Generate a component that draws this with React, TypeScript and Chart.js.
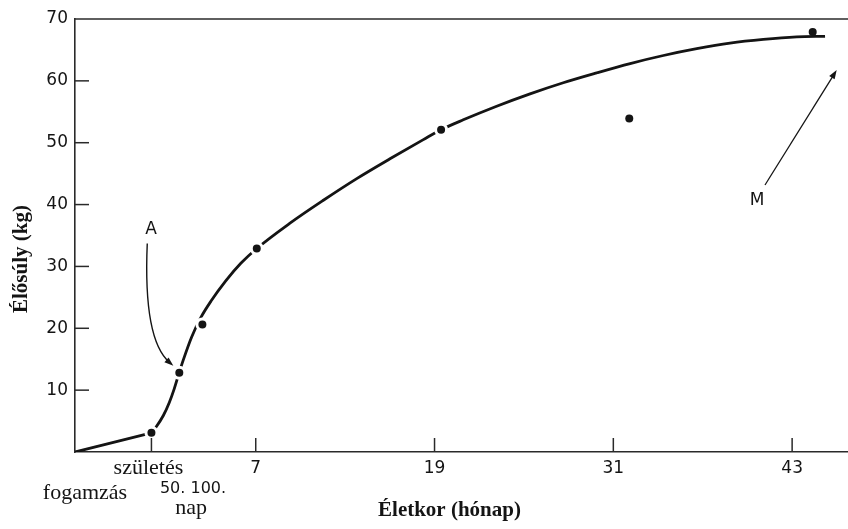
import React, { useEffect, useRef } from "react";
import { Chart, registerables } from "chart.js";

Chart.register(...registerables);

// Axis ranges: age in months (birth = 0), live weight in kg
const xMin = -5.13;
const xMax = 46.75;
const yMin = 0;
const yMax = 70;

const xTickValues = [0, 7, 19, 31, 43];
const xTickLabels = ["születés", "7", "19", "31", "43"];
const yTickValues = [10, 20, 30, 40, 50, 60, 70];

// conception -> birth
const prenatalMonths = [-5.13, 0];
const prenatalWeights = [0, 3.1];

// fitted growth curve after birth
const growthMonths = [0, 0.3, 0.8, 1.2, 1.5, 1.87, 2.14, 2.7, 3.33, 4.0, 5.0, 6.0, 7.07, 9.3, 11.54, 13.78, 16.01, 18.25, 19.44, 20.93, 23.17, 25.41, 27.64, 29.89, 32.13, 34.36, 36.6, 38.83, 41.07, 43.31, 45.21];
const growthWeights = [3.1, 4.0, 5.9, 8.0, 10.0, 12.9, 14.9, 18.6, 21.8, 24.4, 27.7, 30.5, 32.9, 37.0, 40.7, 44.2, 47.4, 50.5, 52.1, 53.7, 55.9, 57.9, 59.7, 61.3, 62.8, 64.1, 65.2, 66.1, 66.7, 67.1, 67.2];

// measured points
const measuredMonths = [0, 1.87, 3.42, 7.07, 19.44, 32.07, 44.38];
const measuredWeights = [3.1, 12.8, 20.6, 32.9, 52.1, 53.9, 67.9];

// annotations (data coordinates)
const labelA = { text: "A", x: -0.03, y: 35.9 };
const arrowA = { sx: -0.28, sy: 33.7, cx: -0.56, cy: 18.1, ex: 1.47, ey: 13.95 };
const labelM = { text: "M", x: 40.64, y: 40.7 };
const arrowM = { sx: 41.18, sy: 43.16, ex: 45.99, ey: 61.75 };

const INK = "#141414";
const AXIS = "#2a2a2a";
const SANS = "'DejaVu Sans', sans-serif";
const SERIF = "'Liberation Serif', 'Times New Roman', serif";

function arrowHead(ctx: CanvasRenderingContext2D, x: number, y: number, dx: number, dy: number, len: number, half: number) {
  const l = Math.hypot(dx, dy) || 1;
  const ux = dx / l, uy = dy / l;
  ctx.beginPath();
  ctx.moveTo(x, y);
  ctx.lineTo(x - ux * len - uy * half, y - uy * len + ux * half);
  ctx.lineTo(x - ux * len + uy * half, y - uy * len - ux * half);
  ctx.closePath();
  ctx.fill();
}

const decorPlugin = {
  id: "decor",
  afterDraw(chart: any) {
    const { ctx, chartArea: ca, scales } = chart;
    const X = (v: number) => scales.x.getPixelForValue(v);
    const Y = (v: number) => scales.y.getPixelForValue(v);
    ctx.save();
    ctx.strokeStyle = AXIS;
    ctx.fillStyle = INK;
    // top frame line
    ctx.lineWidth = 1.6;
    ctx.beginPath();
    ctx.moveTo(ca.left, ca.top);
    ctx.lineTo(ca.right, ca.top);
    ctx.stroke();
    // inward tick marks
    ctx.lineWidth = 1.5;
    for (const v of yTickValues) {
      if (v === yMax) continue;
      const y = Y(v);
      ctx.beginPath();
      ctx.moveTo(ca.left, y);
      ctx.lineTo(ca.left + 14, y);
      ctx.stroke();
    }
    for (const v of xTickValues) {
      const x = X(v);
      ctx.beginPath();
      ctx.moveTo(x, ca.bottom);
      ctx.lineTo(x, ca.bottom - 14);
      ctx.stroke();
    }
    // x tick labels
    ctx.textAlign = "center";
    ctx.textBaseline = "alphabetic";
    xTickValues.forEach((v, i) => {
      const lab = xTickLabels[i];
      if (/^\d+$/.test(lab)) {
        ctx.font = `17px ${SANS}`;
        ctx.fillText(lab, X(v), ca.bottom + 21);
      } else {
        ctx.font = `22px ${SERIF}`;
        ctx.fillText(lab, X(v) - 3, ca.bottom + 22);
      }
    });
    ctx.font = `22px ${SERIF}`;
    ctx.fillText("fogamzás", X(-4.46), ca.bottom + 47);
    ctx.fillText("nap", X(2.66), ca.bottom + 62);
    ctx.font = `16px ${SANS}`;
    ctx.fillText("50. 100.", X(2.79), ca.bottom + 41);
    // axis titles
    ctx.font = `bold 21px ${SERIF}`;
    ctx.fillText("Életkor (hónap)", (ca.left + ca.right) / 2 - 12, ca.bottom + 64);
    ctx.save();
    ctx.translate(22, ca.top + 240);
    ctx.rotate(-Math.PI / 2);
    ctx.textBaseline = "middle";
    ctx.fillText("Élősúly (kg)", 0, 0);
    ctx.restore();
    // annotation labels
    ctx.font = `17px ${SANS}`;
    ctx.textBaseline = "middle";
    ctx.fillText(labelA.text, X(labelA.x), Y(labelA.y));
    ctx.fillText(labelM.text, X(labelM.x), Y(labelM.y));
    // arrow A
    ctx.lineWidth = 1.4;
    ctx.strokeStyle = INK;
    const a0x = X(arrowA.sx), a0y = Y(arrowA.sy);
    const a1x = X(arrowA.cx), a1y = Y(arrowA.cy);
    const a2x = X(arrowA.ex), a2y = Y(arrowA.ey);
    ctx.beginPath();
    ctx.moveTo(a0x, a0y);
    ctx.quadraticCurveTo(a1x, a1y, a2x - (a2x - a1x) * 0.12, a2y - (a2y - a1y) * 0.12);
    ctx.stroke();
    arrowHead(ctx, a2x, a2y, a2x - a1x, a2y - a1y, 9, 3.2);
    // arrow M
    const m0x = X(arrowM.sx), m0y = Y(arrowM.sy);
    const m1x = X(arrowM.ex), m1y = Y(arrowM.ey);
    ctx.lineWidth = 1.3;
    ctx.beginPath();
    ctx.moveTo(m0x, m0y);
    ctx.lineTo(m1x - (m1x - m0x) * 0.05, m1y - (m1y - m0y) * 0.05);
    ctx.stroke();
    arrowHead(ctx, m1x, m1y, m1x - m0x, m1y - m0y, 9, 3.2);
    ctx.restore();
  },
};

export default function App() {
  const canvasRef = useRef<HTMLCanvasElement | null>(null);

  useEffect(() => {
    const canvas = canvasRef.current;
    if (!canvas) return;
    const chart = new Chart(canvas, {
      type: "scatter",
      data: {
        datasets: [
          {
            label: "mért",
            data: measuredMonths.map((x, i) => ({ x, y: measuredWeights[i] })),
            showLine: false,
            pointRadius: [5.5, 5.5, 5.5, 5.5, 5.5, 4, 4],
            pointBorderWidth: [3, 3, 3, 3, 3, 0, 0],
            pointBackgroundColor: INK,
            pointBorderColor: "#ffffff",
            order: 0,
          },
          {
            label: "magzati",
            data: prenatalMonths.map((x, i) => ({ x, y: prenatalWeights[i] })),
            showLine: true,
            pointRadius: 0,
            borderColor: INK,
            borderWidth: 2.8,
            tension: 0,
            order: 1,
          },
          {
            label: "növekedés",
            data: growthMonths.map((x, i) => ({ x, y: growthWeights[i] })),
            showLine: true,
            pointRadius: 0,
            borderColor: INK,
            borderWidth: 2.8,
            cubicInterpolationMode: "monotone",
            order: 1,
          },
        ],
      } as any,
      options: {
        animation: false,
        responsive: false,
        devicePixelRatio: 1,
        events: [],
        layout: { autoPadding: false, padding: { top: 19, right: 0, bottom: 0, left: 0 } },
        plugins: { legend: { display: false }, tooltip: { enabled: false } },
        scales: {
          x: {
            type: "linear",
            min: xMin,
            max: xMax,
            grid: { display: false, drawTicks: false },
            border: { display: true, color: AXIS, width: 1.6 },
            ticks: { display: false },
            afterFit: (s: any) => {
              s.height = 77;
            },
          },
          y: {
            type: "linear",
            min: yMin,
            max: yMax,
            grid: { display: false, drawTicks: false },
            border: { display: true, color: AXIS, width: 1.6 },
            ticks: {
              stepSize: 10,
              padding: 7,
              color: INK,
              font: { family: SANS, size: 17 },
              callback: (v: any) => (v === 0 ? "" : String(v)),
            },
            afterFit: (s: any) => {
              s.width = 75;
            },
          },
        },
      } as any,
      plugins: [decorPlugin],
    });
    return () => chart.destroy();
  }, []);

  return (
    <div style={{ position: "fixed", left: 0, top: 0, width: 848, height: 529, background: "#ffffff" }}>
      <canvas ref={canvasRef} width={848} height={529} style={{ display: "block" }} />
    </div>
  );
}
